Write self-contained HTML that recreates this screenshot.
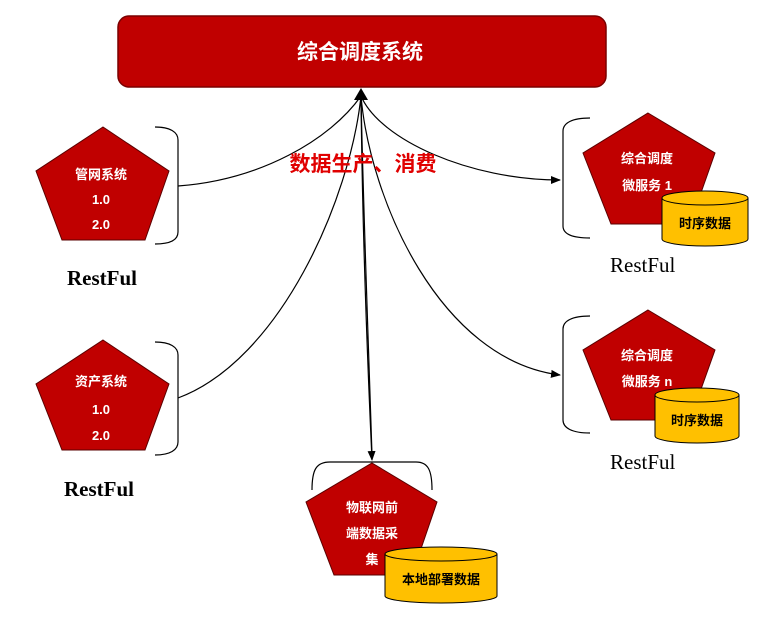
<!DOCTYPE html>
<html><head><meta charset="utf-8"><style>
html,body{margin:0;padding:0;background:#fff;width:770px;height:618px;overflow:hidden}
text{font-family:"Liberation Sans","Noto Sans CJK SC",sans-serif}
.w{fill:#fff;font-size:13px;font-weight:bold;text-anchor:middle}
.c{fill:#000;font-size:13px;font-weight:bold;text-anchor:middle}
.r{font-family:"Liberation Serif",serif;font-size:21px}
</style></head><body>
<svg width="770" height="618" viewBox="0 0 770 618" xmlns="http://www.w3.org/2000/svg">
<defs><marker id="a" markerWidth="10" markerHeight="10" refX="9" refY="5" orient="auto" markerUnits="userSpaceOnUse"><path d="M0,1 L10,5 L0,9 z" fill="#000"/></marker></defs>
<rect x="118" y="16" width="488" height="71" rx="11" fill="#c00000" stroke="#7a0000" stroke-width="1.5"/>
<text x="360" y="59" fill="#fff" font-size="21" font-weight="bold" text-anchor="middle">综合调度系统</text>
<g fill="none" stroke="#000" stroke-width="1.2">
<path d="M178,186 C260,180 330,140 361,96"/>
<path d="M178,398 C280,360 350,200 361,96"/>
<path d="M361,96 C380,140 470,180 560,180" marker-end="url(#a)"/>
<path d="M361,96 C370,200 440,360 560,375" marker-end="url(#a)"/>
<path d="M361,96 C362,200 366,330 372,460" marker-end="url(#a)"/>
<path d="M361,96 C363,200 368,330 372,455"/>
<path d="M155,127 C170,127 178,132 178,140 L178,232 C178,240 170,244 155,244"/>
<path d="M155,342 C170,342 178,347 178,355 L178,442 C178,450 170,455 155,455"/>
<path d="M590,118 C572,118 563,123 563,131 L563,226 C563,234 572,238 590,238"/>
<path d="M590,316 C572,316 563,321 563,329 L563,420 C563,428 572,433 590,433"/>
<path d="M312,490 C312,470 316,462 330,462 L416,462 C428,462 432,470 432,490"/>
</g>
<path d="M361,88 L354,100 L368,100 z" fill="#000"/>
<text x="363" y="171" fill="#e00000" font-size="21" font-weight="bold" text-anchor="middle">数据生产、消费</text>
<g fill="#c00000" stroke="#5a0000" stroke-width="1">
<polygon points="103,127 169,171 145,240 62,240 36,171"/>
<polygon points="103,340 169,384 145,450 62,450 36,384"/>
<polygon points="648,113 715,153 690,224 611,224 583,153"/>
<polygon points="648,310 715,350 690,420 611,420 583,350"/>
<polygon points="372,463 437,502 412,575 334,575 306,502"/>
</g>
<text class="w" x="101" y="179">管网系统</text><text class="w" x="101" y="204">1.0</text><text class="w" x="101" y="229">2.0</text>
<text class="w" x="101" y="386">资产系统</text><text class="w" x="101" y="414">1.0</text><text class="w" x="101" y="440">2.0</text>
<text class="w" x="647" y="163">综合调度</text><text class="w" x="647" y="190">微服务 1</text>
<text class="w" x="647" y="360">综合调度</text><text class="w" x="647" y="386">微服务 n</text>
<text class="w" x="372" y="512">物联网前</text><text class="w" x="372" y="538">端数据采</text><text class="w" x="372" y="564">集</text>
<g fill="#ffc000" stroke="#000" stroke-width="1">
<path d="M662,198 L662,239 A43,7 0 0 0 748,239 L748,198"/>
<ellipse cx="705" cy="198" rx="43" ry="7"/>
<path d="M655,395 L655,436 A42,7 0 0 0 739,436 L739,395"/>
<ellipse cx="697" cy="395" rx="42" ry="7"/>
<path d="M385,554 L385,596 A56,7 0 0 0 497,596 L497,554"/>
<ellipse cx="441" cy="554" rx="56" ry="7"/>
</g>
<text class="c" x="705" y="228">时序数据</text>
<text class="c" x="697" y="425">时序数据</text>
<text class="c" x="441" y="584">本地部署数据</text>
<text class="r" x="67" y="285" font-weight="bold">RestFul</text>
<text class="r" x="64" y="496" font-weight="bold">RestFul</text>
<text class="r" x="610" y="272">RestFul</text>
<text class="r" x="610" y="469">RestFul</text>
</svg>
</body></html>
